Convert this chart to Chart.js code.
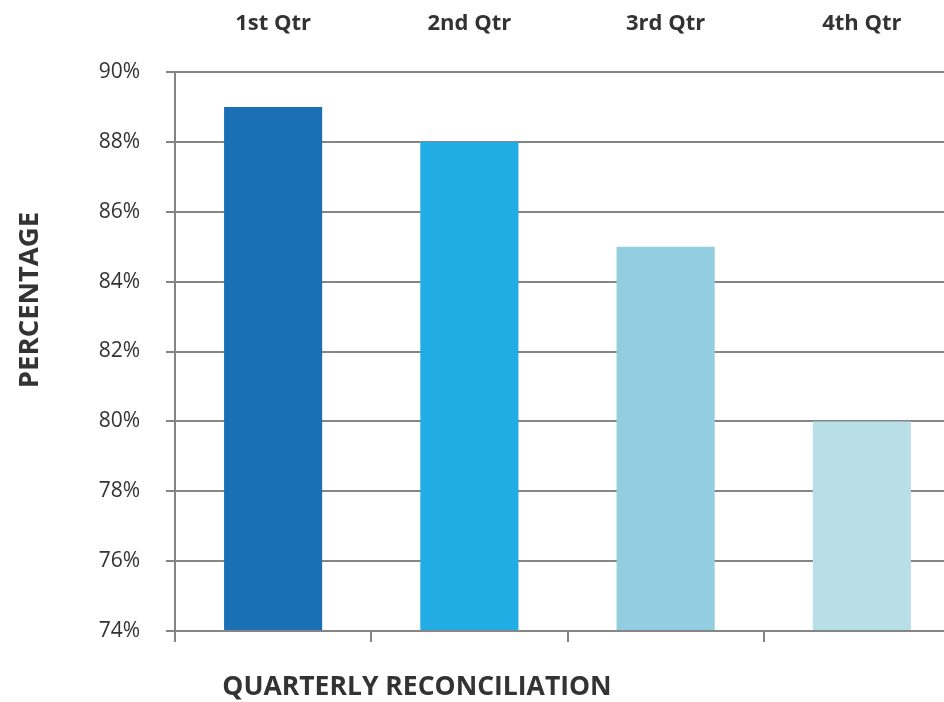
<!DOCTYPE html>
<html>
<head>
<meta charset="utf-8">
<script src="https://cdn.jsdelivr.net/npm/chart.js@4/dist/chart.umd.min.js"></script>
<style>
    html, body { margin: 0; padding: 0; overflow: hidden; background: #fff; }
    #wrap { width: 960px; height: 702px; }
</style>
</head>
<body>
<div id="wrap"><canvas id="quarter-chart" width="960" height="702"></canvas></div>
<script>
const quarters = ["1st Qtr", "2nd Qtr", "3rd Qtr", "4th Qtr"];
const percentages = [89, 88, 85, 80];
const barColors = ['#1b6fb5', '#21ace3', '#92cedf', '#b8dee8'];
const yTitle = 'PERCENTAGE';
const xTitle = 'QUARTERLY RECONCILIATION';

const gridColor = '#858585';
const textColor = '#333333';
const fontFamily = "'Open Sans', sans-serif";

// axis titles sit off-center in the original, so draw them by hand
const axisTitlesPlugin = {
    id: 'axisTitles',
    afterDraw(chart) {
        const ctx = chart.ctx;
        ctx.save();
        ctx.fillStyle = textColor;
        ctx.font = "bold 26.5px " + fontFamily;
        ctx.textAlign = 'center';
        ctx.textBaseline = 'middle';
        ctx.fillText(xTitle, 417, 687);
        ctx.font = "bold 27.5px " + fontFamily;
        ctx.translate(30, 300);
        ctx.rotate(-Math.PI / 2);
        ctx.fillText(yTitle, 0, 0);
        ctx.restore();
    }
};

let ctx = document.getElementById('quarter-chart').getContext('2d');
let quarterChart = new Chart(ctx, {
    type: 'bar',
    data: {
        labels: quarters,
        datasets: [
            {
                data: percentages,
                backgroundColor: barColors,
                borderWidth: 0,
                base: 74,
                xAxisID: 'x',
                barPercentage: 0.5,
                categoryPercentage: 1
            }
        ]
    },
    options: {
        responsive: false,
        animation: false,
        layout: { padding: 0 },
        plugins: {
            legend: { display: false },
            tooltip: { enabled: false }
        },
        scales: {
            x: {
                position: 'bottom',
                offset: true,
                grid: {
                    offset: true,
                    drawOnChartArea: false,
                    color: gridColor,
                    lineWidth: 2,
                    tickLength: 11
                },
                border: { display: true, color: gridColor, width: 2 },
                ticks: { display: false },
                afterFit: function (axis) { axis.height = 71; }
            },
            xTop: {
                type: 'category',
                labels: quarters,
                position: 'top',
                offset: true,
                grid: { display: false, drawTicks: false },
                border: { display: false },
                ticks: {
                    color: textColor,
                    padding: 35,
                    font: { family: fontFamily, size: 22, weight: 'bold' }
                },
                afterFit: function (axis) { axis.height = 72; }
            },
            y: {
                min: 74,
                max: 90,
                grid: {
                    color: gridColor,
                    lineWidth: 2,
                    tickLength: 9
                },
                border: { display: true, color: gridColor, width: 2 },
                ticks: {
                    stepSize: 2,
                    color: textColor,
                    padding: 26,
                    font: { family: fontFamily, size: 21 },
                    callback: function (v) { return v + '%'; }
                },
                afterFit: function (axis) { axis.width = 175; }
            }
        }
    },
    plugins: [axisTitlesPlugin]
});
</script>
</body>
</html>
